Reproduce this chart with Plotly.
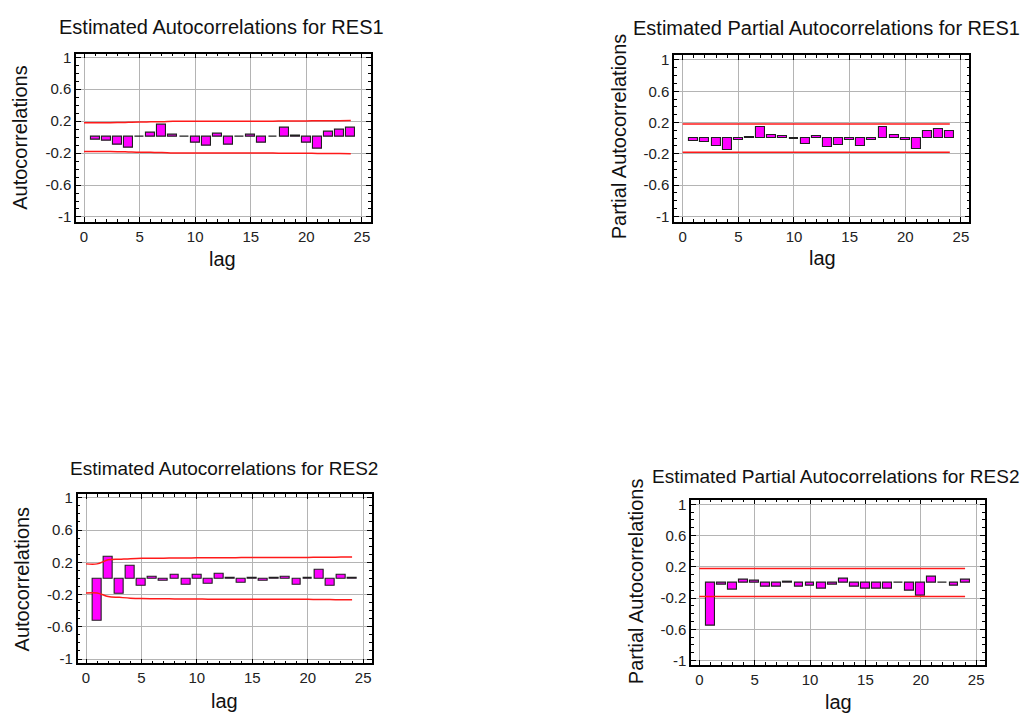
import plotly.graph_objects as go

W, H = 1029, 717

lags = list(range(1, 25))
bound_lags = list(range(0, 25))

acf_res1 = [-0.035, -0.05, -0.09, -0.13, 0.004, 0.055, 0.16, 0.03, 0.0, -0.065, -0.11, 0.045,
            -0.09, 0.0, 0.03, -0.07, 0.004, 0.12, 0.02, -0.065, -0.15, 0.07, 0.095, 0.115]
acf_res1_upper = [0.18, 0.18, 0.181, 0.182, 0.186, 0.19, 0.191, 0.192, 0.198, 0.198, 0.198, 0.199, 0.2,
                  0.2, 0.2, 0.2, 0.2, 0.2, 0.202, 0.202, 0.202, 0.205, 0.205, 0.206, 0.207]
acf_res1_lower = [-0.18, -0.18, -0.181, -0.182, -0.186, -0.19, -0.191, -0.192, -0.198, -0.198, -0.198, -0.199, -0.2,
                  -0.2, -0.2, -0.2, -0.2, -0.2, -0.202, -0.202, -0.202, -0.205, -0.205, -0.206, -0.207]

pacf_res1 = [-0.04, -0.055, -0.1, -0.155, -0.025, 0.02, 0.14, 0.045, 0.03, -0.008, -0.08, 0.025,
             -0.12, -0.085, -0.025, -0.1, -0.025, 0.145, 0.045, -0.025, -0.145, 0.095, 0.12, 0.085]
pacf_res1_upper = [0.18] * 25
pacf_res1_lower = [-0.18] * 25

acf_res2 = [-0.53, 0.27, -0.195, 0.16, -0.09, 0.02, -0.035, 0.05, -0.08, 0.04, -0.07, 0.055,
            0.004, -0.05, 0.004, -0.025, 0.004, 0.015, -0.08, 0.003, 0.11, -0.09, 0.05, 0.004]
acf_res2_upper = [0.18, 0.18, 0.23, 0.237, 0.245, 0.25, 0.25, 0.251, 0.252, 0.253, 0.255, 0.256, 0.257,
                  0.257, 0.258, 0.258, 0.258, 0.258, 0.259, 0.259, 0.26, 0.262, 0.263, 0.264, 0.265]
acf_res2_lower = [-0.18, -0.18, -0.225, -0.235, -0.245, -0.25, -0.252, -0.253, -0.254, -0.255, -0.256, -0.257,
                  -0.257, -0.258, -0.258, -0.258, -0.258, -0.259, -0.259, -0.26, -0.26, -0.262, -0.263, -0.264, -0.265]

pacf_res2 = [-0.55, -0.03, -0.09, 0.03, 0.025, -0.05, -0.055, 0.005, -0.06, -0.04, -0.075, -0.03,
             0.05, -0.06, -0.075, -0.08, -0.08, 0.0, -0.1, -0.17, 0.07, 0.0, -0.04, 0.035]
pacf_res2_upper = [0.18] * 25
pacf_res2_lower = [-0.18] * 25

y_tickvals = [-1, -0.6, -0.2, 0.2, 0.6, 1]
y_ticktext = ["-1", "-0.6", "-0.2", "0.2", "0.6", "1"]
x_tickvals = [0, 5, 10, 15, 20, 25]
x_ticktext = ["0", "5", "10", "15", "20", "25"]

titles = ["Estimated Autocorrelations for RES1", "Estimated Partial Autocorrelations for RES1",
          "Estimated Autocorrelations for RES2", "Estimated Partial Autocorrelations for RES2"]
ytitles = ["Autocorrelations", "Partial Autocorrelations", "Autocorrelations", "Partial Autocorrelations"]
xtitle = "lag"

panels = [
    (acf_res1, acf_res1_upper, acf_res1_lower),
    (pacf_res1, pacf_res1_upper, pacf_res1_lower),
    (acf_res2, acf_res2_upper, acf_res2_lower),
    (pacf_res2, pacf_res2_upper, pacf_res2_lower),
]

# pixel geometry (left, right, top, bottom)
frames = [(76, 370.7, 49.3, 220), (674, 969.3, 50.7, 220), (77.7, 371.7, 495, 666.7), (691, 985, 501, 668.3)]
yranges = [(-1.066, 1.045), (-1.076, 1.063), (-1.053, 1.049), (-1.055, 1.059)]
xranges = [(-0.72, 25.79), (-0.78, 25.75), (-0.75, 25.77), (-0.75, 25.8)]
title_pos = [(221.5, 22, 20), (826, 23, 20), (223.8, 469.5, 19), (835.8, 477.5, 19)]
ytitle_pos = [(20.5, 134), (619, 133), (22, 581.7), (635.5, 584)]
xtitle_pos = [(222.5, 257.5), (822, 256.5), (224.5, 705), (838, 706)]

FONT = "Liberation Sans, Arial, sans-serif"

fig = go.Figure()
annotations = []
for i, ((vals, up, lo), fr, yr, xr) in enumerate(zip(panels, frames, yranges, xranges)):
    n = i + 1
    xa = "x" if n == 1 else f"x{n}"
    ya = "y" if n == 1 else f"y{n}"
    fig.add_trace(go.Bar(x=lags, y=vals, width=0.8, xaxis=xa, yaxis=ya,
                         marker=dict(color="#ff00ff", line=dict(color="#202020", width=1.1)),
                         showlegend=False))
    fig.add_trace(go.Scatter(x=bound_lags, y=up, mode="lines", xaxis=xa, yaxis=ya,
                             line=dict(color="#ff1a1a", width=1.5, shape="spline"), showlegend=False))
    fig.add_trace(go.Scatter(x=bound_lags, y=lo, mode="lines", xaxis=xa, yaxis=ya,
                             line=dict(color="#ff1a1a", width=1.5, shape="spline"), showlegend=False))
    l, r, t, b = fr
    axis_common = dict(showline=True, linecolor="black", linewidth=1.5, mirror="allticks",
                       ticks="inside", ticklen=5, tickcolor="black", tickwidth=1.2,
                       showgrid=True, gridcolor="#b4b4b4", gridwidth=1.3, zeroline=False,
                       tickfont=dict(family=FONT, size=15, color="#222222"), fixedrange=True)
    fig.layout[f"xaxis{'' if n == 1 else n}"] = dict(
        domain=[l / W, r / W], range=list(xr), anchor=ya,
        tickmode="array", tickvals=x_tickvals, ticktext=x_ticktext,
        minor=dict(ticks="inside", ticklen=3, tickcolor="black", dtick=1, tick0=0, showgrid=False),
        **axis_common)
    fig.layout[f"yaxis{'' if n == 1 else n}"] = dict(
        domain=[1 - b / H, 1 - t / H], range=list(yr), anchor=xa,
        tickmode="array", tickvals=y_tickvals, ticktext=y_ticktext,
        minor=dict(ticks="inside", ticklen=3, tickcolor="black", dtick=0.1, tick0=0, showgrid=False),
        **axis_common)
    tx, ty, ts = title_pos[i]
    annotations.append(dict(text=titles[i], x=tx / W, y=1 - ty / H, xref="paper", yref="paper",
                            xanchor="center", yanchor="middle", showarrow=False,
                            font=dict(family=FONT, size=ts, color="#111111")))
    yx, yy = ytitle_pos[i]
    annotations.append(dict(text=ytitles[i], x=yx / W, y=1 - yy / H, xref="paper", yref="paper",
                            xanchor="center", yanchor="middle", showarrow=False, textangle=-90,
                            font=dict(family=FONT, size=20, color="#111111")))
    lx, ly = xtitle_pos[i]
    annotations.append(dict(text=xtitle, x=lx / W, y=1 - ly / H, xref="paper", yref="paper",
                            xanchor="center", yanchor="middle", showarrow=False,
                            font=dict(family=FONT, size=20, color="#111111")))

fig.update_layout(width=W, height=H, margin=dict(l=0, r=0, t=0, b=0),
                  paper_bgcolor="white", plot_bgcolor="white", bargap=0,
                  annotations=annotations, font=dict(family=FONT))
fig.write_html("out.html", config={"displayModeBar": False})
